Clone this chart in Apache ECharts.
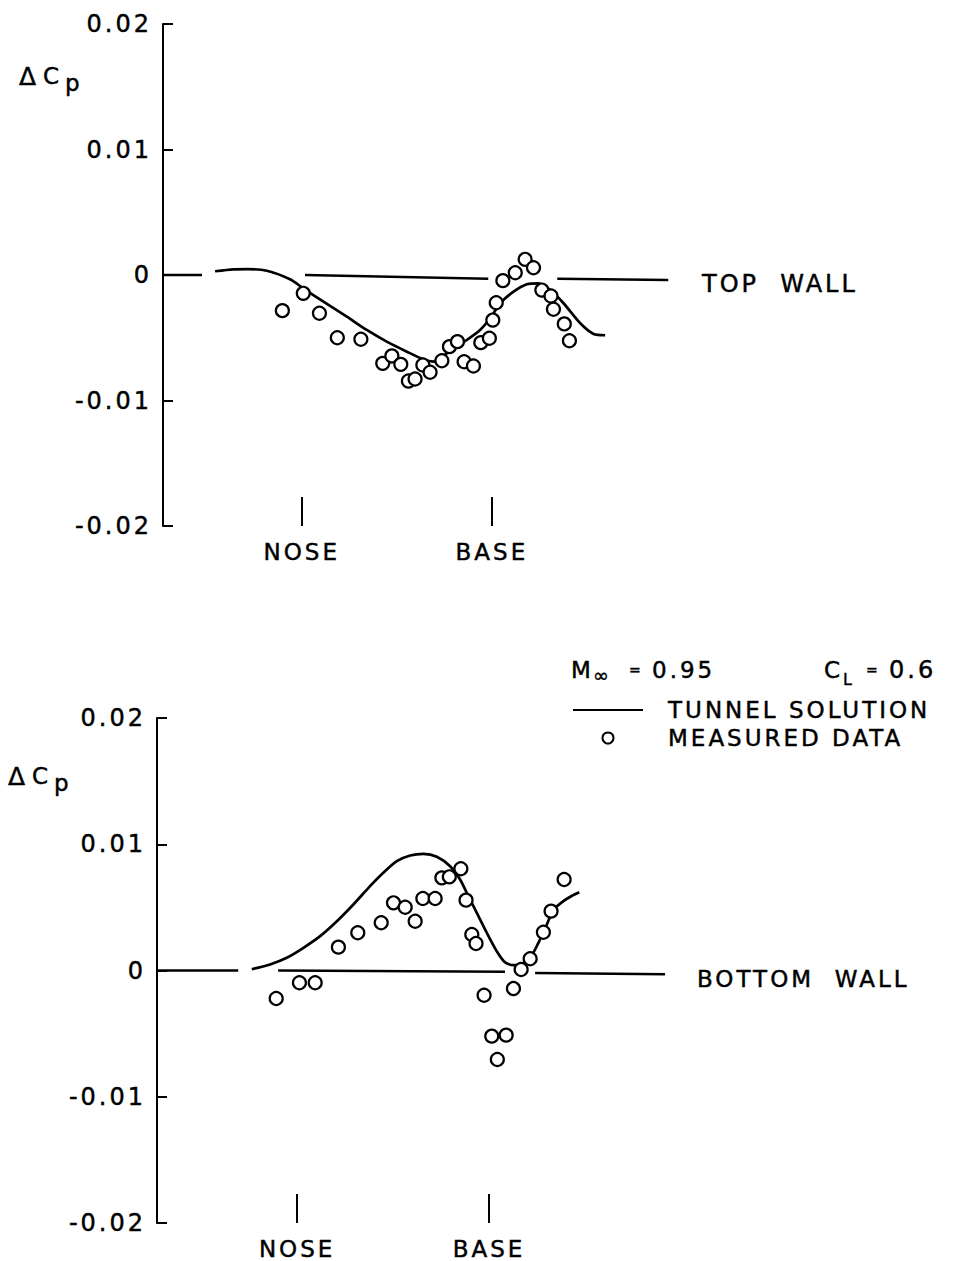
<!DOCTYPE html>
<html>
<head>
<meta charset="utf-8">
<script src="https://cdn.jsdelivr.net/npm/echarts@6/dist/echarts.min.js"></script>
<style>
  html, body { margin: 0; padding: 0; background: #fff; }
  #chart { width: 953px; height: 1261px; }
  /* lettering is drawn with generous tracking */
  #chart svg text { letter-spacing: 3px; }
</style>
</head>
<body>
<div id="chart"></div>
<script>
// x is measured in body lengths from the nose (0 = NOSE, 1 = BASE)
const xTickValues = [0, 1];
const xTickNames = ['NOSE', 'BASE'];
const yTicks = [-0.02, -0.01, 0, 0.01, 0.02];

// wall reference line, drawn in pieces: [x0, y0, x1, y1]
const topWallSegs = [
  [-0.73, 0, -0.525, 0],
  [0.017, 0, 0.981, -0.0003],
  [1.344, -0.0003, 1.928, -0.0004]
];
const bottomWallSegs = [
  [-0.73, 0, -0.307, 0],
  [-0.099, 0, 1.083, -0.0001],
  [1.240, -0.0002, 1.917, -0.0003]
];

// tunnel solution, top wall
const topCurve = [
  [-0.456, 0.0003], [-0.36, 0.00045], [-0.289, 0.00047], [-0.184, 0.00034],
  [-0.062, -0.00034], [0.008, -0.00106], [0.114, -0.00213], [0.237, -0.00332],
  [0.342, -0.00438], [0.447, -0.00531], [0.553, -0.00611], [0.640, -0.00672],
  [0.693, -0.0069], [0.763, -0.00624], [0.868, -0.00518], [0.938, -0.00438],
  [0.991, -0.00345], [1.044, -0.00225], [1.114, -0.00133], [1.184, -0.00074],
  [1.245, -0.00066], [1.307, -0.0012], [1.377, -0.00225], [1.465, -0.00385],
  [1.535, -0.0047], [1.596, -0.0048]
];

// measured data, top wall
const topMeasured = [
  [-0.102, -0.00284], [0.008, -0.00146], [0.093, -0.00305], [0.187, -0.0050],
  [0.311, -0.00512], [0.426, -0.00704], [0.474, -0.00645], [0.521, -0.00712],
  [0.561, -0.00845], [0.596, -0.00829], [0.637, -0.00717], [0.675, -0.00775],
  [0.737, -0.00683], [0.777, -0.00571], [0.819, -0.00531], [0.854, -0.00691],
  [0.903, -0.00725], [0.942, -0.00539], [0.987, -0.00504], [1.005, -0.00359],
  [1.023, -0.00221], [1.058, -0.00045], [1.123, 0.00018], [1.175, 0.00125],
  [1.219, 0.00058], [1.263, -0.0012], [1.311, -0.00167], [1.324, -0.00273],
  [1.381, -0.0039], [1.408, -0.00524]
];

// tunnel solution, bottom wall
const bottomCurve = [
  [-0.236, 0.0001], [-0.141, 0.00048], [-0.054, 0.00101], [0.033, 0.0018],
  [0.120, 0.00272], [0.207, 0.0039], [0.293, 0.00523], [0.380, 0.00668],
  [0.449, 0.00774], [0.519, 0.00866], [0.589, 0.00911], [0.658, 0.00924],
  [0.728, 0.00901], [0.797, 0.00826], [0.849, 0.00721], [0.892, 0.00589],
  [0.936, 0.00457], [0.988, 0.00299], [1.040, 0.00153], [1.083, 0.00065],
  [1.125, 0.00042], [1.167, 0.0005], [1.214, 0.0010], [1.257, 0.00219],
  [1.301, 0.00364], [1.335, 0.0048], [1.387, 0.00549], [1.43, 0.0059],
  [1.47, 0.0062]
];

// measured data, bottom wall
const bottomMeasured = [
  [-0.109, -0.00222], [0.012, -0.00097], [0.094, -0.00097], [0.215, 0.00185],
  [0.316, 0.00299], [0.438, 0.00378], [0.502, 0.00536], [0.563, 0.00501],
  [0.615, 0.0039], [0.655, 0.0057], [0.719, 0.0057], [0.754, 0.00734],
  [0.793, 0.00742], [0.853, 0.00806], [0.880, 0.00557], [0.910, 0.00285],
  [0.932, 0.00214], [0.974, -0.00196], [1.014, -0.0052], [1.089, -0.00512],
  [1.043, -0.00705], [1.127, -0.00143], [1.167, 0.00008], [1.214, 0.00093],
  [1.283, 0.00303], [1.323, 0.0047], [1.391, 0.00721]
];

const FONT = '"DejaVu Sans", sans-serif';
const INK = '#000';
const TEXT_EDGE = 0.45;   // slight outline so the lettering reads as pen strokes

function yLabel(v) {
  if (Math.abs(v) < 1e-9) return '0';
  return v.toFixed(2);
}

function xAxisFor(grid) {
  return {
    gridIndex: grid, type: 'value', min: -0.73, max: 2.5,
    axisLine: { show: false, onZero: false },
    splitLine: { show: false },
    axisTick: {
      show: true, inside: true, length: 29, customValues: xTickValues,
      lineStyle: { color: INK, width: 2 }
    },
    axisLabel: {
      show: true, customValues: xTickValues, margin: 14,
      formatter: v => xTickNames[xTickValues.indexOf(v)],
      color: INK, fontFamily: FONT, fontSize: 23,
      textBorderColor: INK, textBorderWidth: TEXT_EDGE
    }
  };
}

function yAxisFor(grid) {
  return {
    gridIndex: grid, type: 'value', min: -0.02, max: 0.02, interval: 0.01,
    axisLine: { show: true, onZero: false, lineStyle: { color: INK, width: 2 } },
    axisTick: { show: true, inside: true, length: 10, lineStyle: { color: INK, width: 2 } },
    splitLine: { show: false },
    axisLabel: {
      color: INK, fontFamily: FONT, fontSize: 24, margin: 11,
      textBorderColor: INK, textBorderWidth: TEXT_EDGE,
      formatter: yLabel
    }
  };
}

function wallSeries(segs, idx) {
  return segs.map(s => ({
    type: 'line', xAxisIndex: idx, yAxisIndex: idx,
    data: [[s[0], s[1]], [s[2], s[3]]],
    symbol: 'none', silent: true,
    lineStyle: { color: INK, width: 2.4 },
    z: 2
  }));
}

function curveSeries(data, idx) {
  return {
    name: 'TUNNEL SOLUTION', type: 'line', xAxisIndex: idx, yAxisIndex: idx,
    data: data, smooth: 0.25, symbol: 'none',
    itemStyle: { color: INK },
    lineStyle: { color: INK, width: 2.7 },
    z: 3
  };
}

function measuredSeries(data, idx) {
  return {
    name: 'MEASURED DATA', type: 'scatter', xAxisIndex: idx, yAxisIndex: idx,
    data: data, symbol: 'circle', symbolSize: 13,
    itemStyle: { color: '#fff', borderColor: INK, borderWidth: 2.2, opacity: 1 },
    z: 4
  };
}

function txt(text, x, y, size) {
  return {
    type: 'text', x: x, y: y, silent: true,
    style: {
      text: text, font: size + 'px ' + FONT, fill: INK,
      stroke: INK, lineWidth: TEXT_EDGE,
      align: 'left', verticalAlign: 'middle',
      textAlign: 'left', textVerticalAlign: 'middle'
    }
  };
}

const chart = echarts.init(document.getElementById('chart'), null, { renderer: 'svg' });

chart.setOption({
  backgroundColor: '#fff',
  animation: false,
  grid: [
    { left: 163, top: 24, width: 614, height: 502 },
    { left: 157, top: 718, width: 620, height: 505 }
  ],
  xAxis: [xAxisFor(0), xAxisFor(1)],
  yAxis: [yAxisFor(0), yAxisFor(1)],
  legend: {
    orient: 'vertical', left: 572, top: 698, padding: 0,
    itemWidth: 70, itemHeight: 11, itemGap: 4,
    selectedMode: false,
    data: [
      { name: 'TUNNEL SOLUTION', itemStyle: { opacity: 0 } },
      { name: 'MEASURED DATA' }
    ],
    textStyle: {
      color: INK, fontFamily: FONT, fontSize: 23, lineHeight: 24,
      padding: [0, 0, 0, 20], textBorderColor: INK, textBorderWidth: TEXT_EDGE
    }
  },
  series: [].concat(
    wallSeries(topWallSegs, 0),
    [curveSeries(topCurve, 0), measuredSeries(topMeasured, 0)],
    wallSeries(bottomWallSegs, 1),
    [curveSeries(bottomCurve, 1), measuredSeries(bottomMeasured, 1)]
  ),
  graphic: [
    // axis titles
    txt('Δ', 19, 76, 25), txt('C', 43, 76, 23), txt('p', 65, 83, 23),
    txt('Δ', 8, 776, 25), txt('C', 32, 776, 23), txt('p', 54, 783, 23),
    // wall labels
    txt('TOP  WALL', 702, 284, 24),
    txt('BOTTOM  WALL', 697, 979, 23),
    // flow conditions
    txt('M', 571, 670, 23), txt('∞', 593, 675, 19),
    txt('=', 629, 670, 14), txt('0.95', 652, 670, 23),
    txt('C', 824, 670, 23), txt('L', 843, 679, 16),
    txt('=', 866, 670, 14), txt('0.6', 889, 670, 24)
  ]
});
</script>
</body>
</html>
